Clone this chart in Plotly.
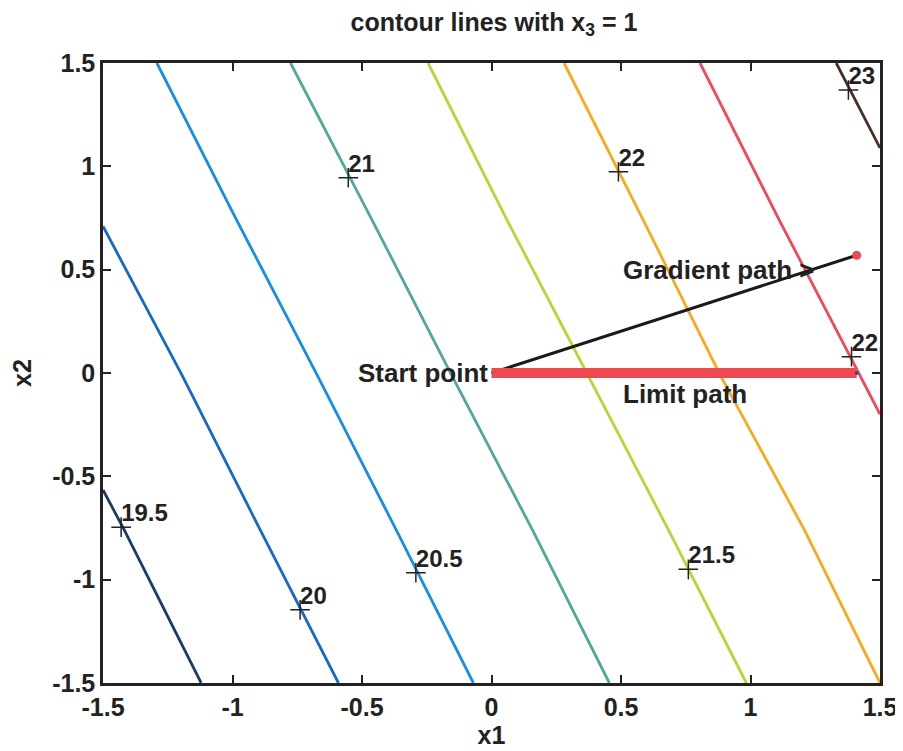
import plotly.graph_objects as go

# Contour levels and the points (x1, x2)
levels = [19.5, 20, 20.5, 21, 21.5, 22, 22.5, 23]
level_colors = ["#1b3c68", "#1668c9", "#168de6", "#4fa89a",
                "#b4d733", "#f9a91e", "#ee4a5a", "#4b2d28"]
line_x1 = [
    [-1.5, -1.418, -1.121],
    [-1.5, -1.195, -0.893, -0.591],
    [-1.292, -0.984, -0.673, -0.368, -0.07],
    [-0.776, -0.461, -0.154, 0.158, 0.455],
    [-0.245, 0.06, 0.372, 0.683, 0.984],
    [0.28, 0.586, 0.883, 1.208, 1.5],
    [0.805, 1.111, 1.422, 1.5],
    [1.331, 1.5],
]
line_x2 = [
    [-0.566, -0.759, -1.5],
    [0.71, -0.01, -0.759, -1.5],
    [1.5, 0.74, -0.01, -0.759, -1.5],
    [1.5, 0.74, -0.01, -0.759, -1.5],
    [1.5, 0.74, -0.01, -0.759, -1.5],
    [1.5, 0.74, -0.01, -0.759, -1.5],
    [1.5, 0.74, -0.01, -0.2],
    [1.5, 1.089],
]

# Contour labels
label_text = ["19.5", "20", "20.5", "21", "21.5", "22", "22.5", "23"]
label_x1 = [-1.43, -0.739, -0.292, -0.553, 0.76, 0.49, 1.39, 1.378]
label_x2 = [-0.746, -1.146, -0.966, 0.945, -0.95, 0.974, 0.079, 1.369]

# Paths
gradient_x1 = [0.0, 1.41]
gradient_x2 = [0.0, 0.57]
limit_x1 = [0.0, 1.41]
limit_x2 = [0.0, 0.0]

ticks = [-1.5, -1, -0.5, 0, 0.5, 1, 1.5]
tick_text = ["-1.5", "-1", "-0.5", "0", "0.5", "1", "1.5"]

FONT = "Liberation Sans, Arial, sans-serif"
TXT = "#222222"
FS = 25

fig = go.Figure()

for lv, col, xs, ys in zip(levels, level_colors, line_x1, line_x2):
    fig.add_trace(go.Scatter(x=xs, y=ys, mode="lines",
                             line=dict(color=col, width=2.8),
                             name=str(lv), hoverinfo="skip"))

# Gradient path
fig.add_trace(go.Scatter(x=gradient_x1, y=gradient_x2, mode="lines",
                         line=dict(color="#1a1a1a", width=3)))
fig.add_trace(go.Scatter(x=gradient_x1[-1:], y=gradient_x2[-1:], mode="markers",
                         marker=dict(color="#ee4a52", size=9)))
# Limit path
fig.add_trace(go.Scatter(x=limit_x1, y=limit_x2, mode="lines",
                         line=dict(color="#ec4a50", width=10)))
fig.add_trace(go.Scatter(x=limit_x1[-1:], y=limit_x2[-1:], mode="markers",
                         marker=dict(color="#1f4fa0", size=4)))

# Contour label markers and texts
fig.add_trace(go.Scatter(x=label_x1, y=label_x2, mode="markers",
                         marker=dict(symbol="cross-thin", size=14,
                                     line=dict(color="#222222", width=1.5))))
fig.add_trace(go.Scatter(x=label_x1, y=label_x2, mode="text", text=label_text,
                         textposition="top right", cliponaxis=True,
                         textfont=dict(family=FONT, size=FS - 1, color=TXT, weight="bold")))

ann_font = dict(family=FONT, size=FS + 1, color=TXT, weight="bold")
fig.add_annotation(x=0, y=0, text="Start point", showarrow=False,
                   xanchor="right", yanchor="middle", xshift=-2, font=ann_font)
fig.add_annotation(x=0.5, y=0.5, text="Gradient path >", showarrow=False,
                   xanchor="left", yanchor="middle", font=ann_font)
fig.add_annotation(x=0.5, y=-0.1, text="Limit path", showarrow=False,
                   xanchor="left", yanchor="middle", font=ann_font)

axis_common = dict(
    range=[-1.5, 1.5], tickvals=ticks, ticktext=tick_text,
    ticks="inside", ticklen=8, tickwidth=2, tickcolor="#222222",
    showline=True, linewidth=2.5, linecolor="#222222", mirror="ticks",
    showgrid=False, zeroline=False, automargin=False,
    tickfont=dict(family=FONT, size=FS, color=TXT, weight="bold"),
)

fig.update_layout(
    width=895, height=743,
    paper_bgcolor="white", plot_bgcolor="white",
    margin=dict(l=95, r=23, t=55, b=68),
    showlegend=False,
    title=dict(text="contour lines with x<sub>3</sub> = 1", x=0.543, xanchor="center",
               y=0.981, yanchor="middle",
               font=dict(family=FONT, size=FS, color=TXT, weight="bold")),
    xaxis=dict(**axis_common,
               title=dict(text="x1", standoff=6,
                          font=dict(family=FONT, size=FS, color=TXT, weight="bold"))),
    yaxis=dict(**axis_common,
               title=dict(text="x2", standoff=26,
                          font=dict(family=FONT, size=FS, color=TXT, weight="bold"))),
)

fig.write_html("out.html")
